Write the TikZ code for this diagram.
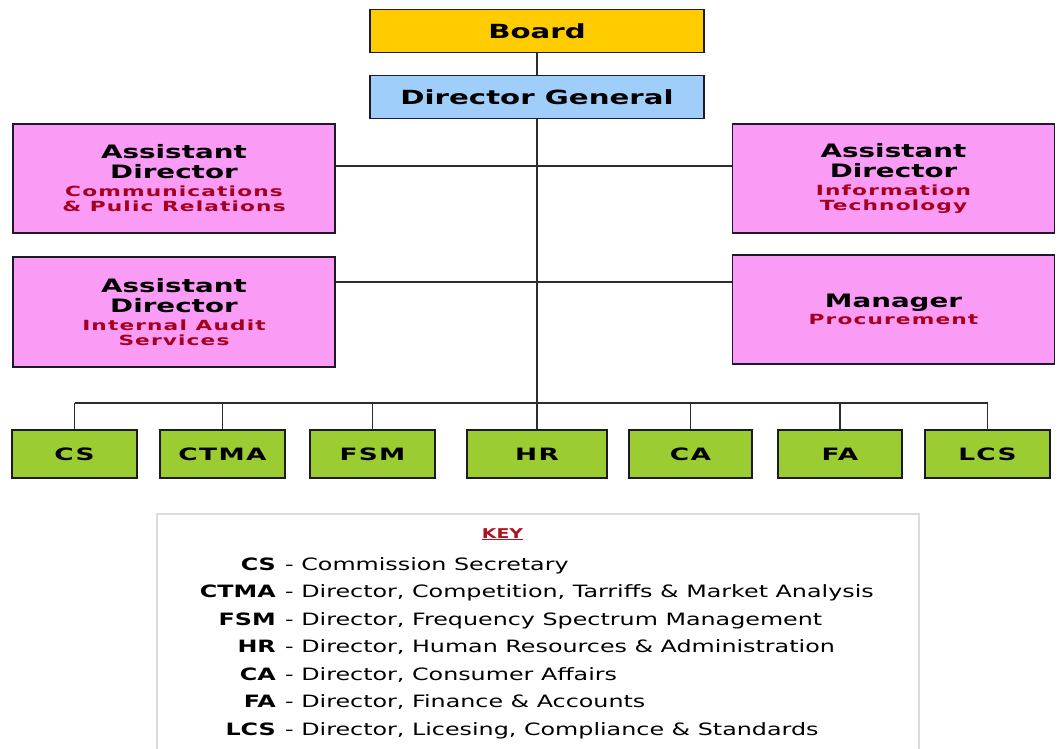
\documentclass[tikz,border=0pt]{standalone}
\usepackage{fontspec}
\setmainfont{DejaVu Sans}
\newfontfamily\boxfont{DejaVu Sans}[FakeStretch=1.5]
\newfontfamily\tagfont{DejaVu Sans}[FakeStretch=1.55,LetterSpace=8]
\newfontfamily\keyfont{DejaVu Sans}[FakeStretch=1.4]

\definecolor{boardgold}{RGB}{255,204,0}
\definecolor{dgblue}{RGB}{160,206,250}
\definecolor{adpink}{RGB}{250,155,245}
\definecolor{dirgreen}{RGB}{155,204,50}
\definecolor{unitred}{RGB}{165,0,30}
\definecolor{keyred}{RGB}{175,20,30}
\definecolor{boxline}{RGB}{30,25,40}
\definecolor{linegray}{RGB}{45,45,45}
\definecolor{keyframe}{RGB}{220,220,220}

% red second line inside the assistant director boxes
\newcommand{\deptname}[1]{{\tagfont\bfseries\fontsize{14}{15}\selectfont\color{unitred}#1}}

\begin{document}
\begin{tikzpicture}[x=1pt, y=-1pt,
  topbox/.style={draw=boxline, line width=1.8pt, minimum width=334pt, minimum height=43pt,
    font=\boxfont\bfseries\fontsize{19.5}{22}\selectfont},
  adbox/.style={draw=boxline, line width=1.8pt, fill=adpink, minimum width=322pt, minimum height=109pt,
    align=center, font=\boxfont\bfseries\fontsize{18.5}{20}\selectfont},
  dirbox/.style={draw=boxline, line width=1.8pt, fill=dirgreen, minimum height=48pt,
    font=\tagfont\bfseries\fontsize{17}{20}\selectfont},
  link/.style={draw=linegray, line width=1.7pt},
  keyabbr/.style={anchor=base east, inner sep=0pt, font=\keyfont\bfseries\fontsize{17}{20}\selectfont},
  keytext/.style={anchor=base west, inner sep=0pt, font=\keyfont\fontsize{17}{20}\selectfont}]
  \useasboundingbox (0,0) rectangle (1063,748);

  % board and director general
  \node[topbox, fill=boardgold] (board) at (537,31) {Board};
  \node[topbox, fill=dgblue] (dg) at (537,97) {Director General};
  \draw[link] (board) -- (dg);

  % assistant directors and manager
  \node[adbox] (adcpr) at (174,178.5) {Assistant\\Director\\[-2pt]\deptname{Communications}\\[-5pt]\deptname{\& Pulic Relations}};
  \node[adbox, minimum height=110pt] (adias) at (174,312) {Assistant\\Director\\[-2pt]\deptname{Internal Audit}\\[-5pt]\deptname{Services}};
  \node[adbox] (adit) at (893.5,178.5) {Assistant\\Director\\[-2pt]\deptname{Information}\\[-5pt]\deptname{Technology}};
  \node[adbox] (mproc) at (893.5,309.5) {Manager\\[-3pt]\deptname{Procurement}};

  \coordinate (upper) at (537,166);
  \coordinate (lower) at (537,282);
  \coordinate (bus) at (537,403);
  \draw[link] (dg) -- (bus);
  \draw[link] (adcpr.east |- upper) -- (adit.west |- upper);
  \draw[link] (adias.east |- lower) -- (mproc.west |- lower);

  % directorates
  \node[dirbox, minimum width=125pt] (cs) at (74.5,454) {CS};
  \node[dirbox, minimum width=125pt] (ctma) at (222.5,454) {CTMA};
  \node[dirbox, minimum width=125pt] (fsm) at (372.5,454) {FSM};
  \node[dirbox, minimum width=140pt] (hr) at (537,454) {HR};
  \node[dirbox, minimum width=123pt] (ca) at (690.5,454) {CA};
  \node[dirbox, minimum width=124pt] (fa) at (840,454) {FA};
  \node[dirbox, minimum width=125pt] (lcs) at (987.5,454) {LCS};
  \draw[link] (cs.north |- bus) -- (lcs.north |- bus);
  \foreach \d in {cs,ctma,fsm,hr,ca,fa,lcs}
    \draw[link] (\d) -- (\d |- bus);

  % key
  \draw[keyframe, line width=2pt] (157,760) |- (919,514) -- (919,760);
  \node[anchor=base, font=\keyfont\bfseries\fontsize{13.5}{16}\selectfont, text=keyred] (keyhead) at (502.5,538) {\underline{KEY}};
  \foreach \abbr/\desc [count=\i] in {CS/Commission Secretary,
      CTMA/{Director, Competition, Tarriffs \& Market Analysis},
      FSM/{Director, Frequency Spectrum Management},
      HR/{Director, Human Resources \& Administration},
      CA/{Director, Consumer Affairs},
      FA/{Director, Finance \& Accounts},
      LCS/{Director, Licesing, Compliance \& Standards}} {
    \node[keyabbr] (abbr\i) at (276,542.5+27.5*\i) {\abbr};
    \node[keytext] (desc\i) at (285,542.5+27.5*\i) {- \desc};
  }
\end{tikzpicture}
\end{document}
